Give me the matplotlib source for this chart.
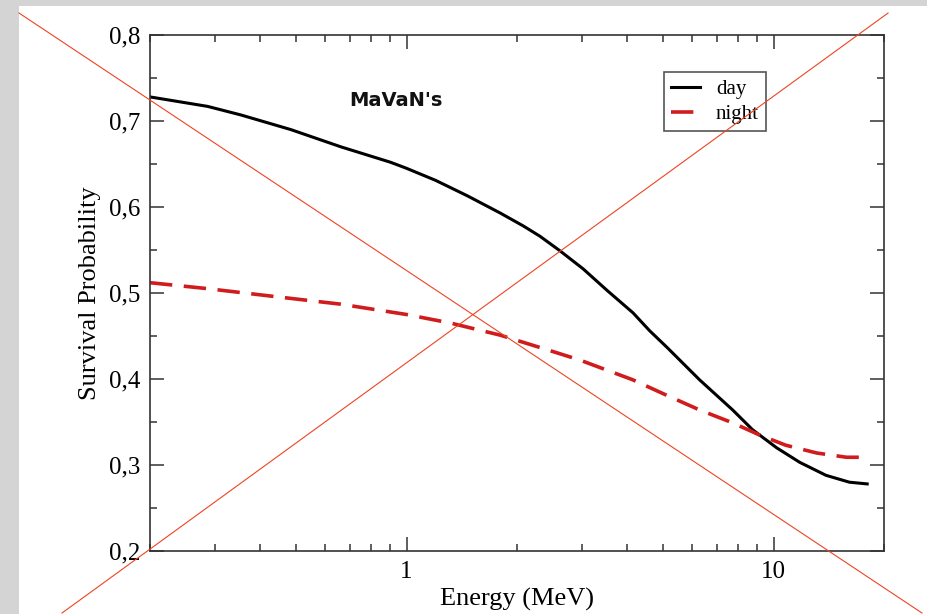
import matplotlib

matplotlib.use("Agg")

import matplotlib.pyplot as plt
from matplotlib.lines import Line2D
from matplotlib.patches import Rectangle
from matplotlib.ticker import FixedLocator, FixedFormatter, LogLocator, NullFormatter


# values
energy_day = [0.2, 0.287, 0.354, 0.484, 0.662, 0.905, 1.0, 1.2, 1.465, 1.80, 2.08, 2.31,
              2.62, 3.03, 3.52, 4.14, 4.60, 5.12, 6.29, 7.74, 8.77, 10.2, 11.8, 13.9,
              16.1, 18.0]
prob_day = [0.728, 0.717, 0.707, 0.690, 0.670, 0.652, 0.645, 0.631, 0.613, 0.593, 0.578,
            0.566, 0.549, 0.528, 0.503, 0.477, 0.456, 0.437, 0.399, 0.364, 0.341, 0.320,
            0.303, 0.288, 0.280, 0.278]

energy_night = [0.2, 0.288, 0.435, 0.662, 1.0, 1.32, 1.80, 2.46, 2.97, 3.43, 4.14, 5.12,
                6.29, 7.74, 9.15, 10.8, 13.1, 15.8, 18.0]
prob_night = [0.512, 0.505, 0.496, 0.487, 0.475, 0.465, 0.451, 0.433, 0.422, 0.412, 0.399,
              0.381, 0.364, 0.349, 0.335, 0.323, 0.314, 0.309, 0.309]

x_ticks = [1, 10]
x_tick_labels = ["1", "10"]
y_ticks = [0.2, 0.3, 0.4, 0.5, 0.6, 0.7, 0.8]
y_tick_labels = ["0,2", "0,3", "0,4", "0,5", "0,6", "0,7", "0,8"]
y_minor_ticks = [0.25, 0.35, 0.45, 0.55, 0.65, 0.75]

series_labels = ["day", "night"]
panel_title = "MaVaN's"

SERIF = ["Liberation Serif", "DejaVu Serif"]
CROSS_RED = "#ee4422"


def main() -> None:
    fig = plt.figure(figsize=(9.27, 6.14), dpi=100)
    fig.patch.set_facecolor("#d4d4d4")
    # white slide area, kept under the axes
    fig.patches.append(Rectangle((0.0205, 0.0), 0.98, 0.990, transform=fig.transFigure,
                                 facecolor="white", edgecolor="none", zorder=-10))

    ax = fig.add_axes([0.1618, 0.1026, 0.7918, 0.8404])
    ax.set_xscale("log")
    ax.set_xlim(0.2, 20)
    ax.set_ylim(0.2, 0.8)

    ax.plot(energy_day, prob_day, color="black", lw=2.2, label=series_labels[0])
    ax.plot(energy_night, prob_night, color="#d01c1c", lw=2.6, dashes=(6.2, 3.2),
            label=series_labels[1])

    ax.xaxis.set_major_locator(FixedLocator(x_ticks))
    ax.xaxis.set_major_formatter(FixedFormatter(x_tick_labels))
    ax.xaxis.set_minor_locator(LogLocator(base=10, subs=range(2, 10)))
    ax.xaxis.set_minor_formatter(NullFormatter())
    ax.yaxis.set_major_locator(FixedLocator(y_ticks))
    ax.yaxis.set_major_formatter(FixedFormatter(y_tick_labels))
    ax.yaxis.set_minor_locator(FixedLocator(y_minor_ticks))

    ax.tick_params(which="both", direction="in", top=True, right=True, color="#333333",
                   width=1.1)
    ax.tick_params(which="major", length=10, pad=7)
    ax.tick_params(which="minor", length=5)
    for lab in ax.get_xticklabels() + ax.get_yticklabels():
        lab.set_family(SERIF)
        lab.set_fontsize(18)
    for spine in ax.spines.values():
        spine.set_linewidth(1.2)
        spine.set_color("#333333")

    ax.set_xlabel("Energy (MeV)", family=SERIF, fontsize=19, labelpad=4)
    ax.set_ylabel("Survival Probability", family=SERIF, fontsize=19, labelpad=6)

    ax.text(0.335, 0.874, panel_title, transform=ax.transAxes, ha="center", va="center",
            fontsize=14, fontweight="bold", family="DejaVu Sans", color="#111111")

    leg = ax.legend(loc="upper left", bbox_to_anchor=(0.700, 0.928), borderaxespad=0,
                    prop={"family": SERIF, "size": 15}, fancybox=False, framealpha=1,
                    edgecolor="#555555", handlelength=1.4, handletextpad=0.75,
                    borderpad=0.35, labelspacing=0.25)
    leg.get_frame().set_linewidth(1.2)

    # big red cross over the whole slide
    fig.add_artist(Line2D([0.0205, 0.9946], [0.9788, 0.0016], transform=fig.transFigure,
                          color=CROSS_RED, lw=0.8, zorder=10))
    fig.add_artist(Line2D([0.0669, 0.958], [0.0016, 0.9788], transform=fig.transFigure,
                          color=CROSS_RED, lw=0.8, zorder=10))

    fig.savefig("out.png", dpi=100)
    plt.close(fig)


if __name__ == "__main__":
    main()
